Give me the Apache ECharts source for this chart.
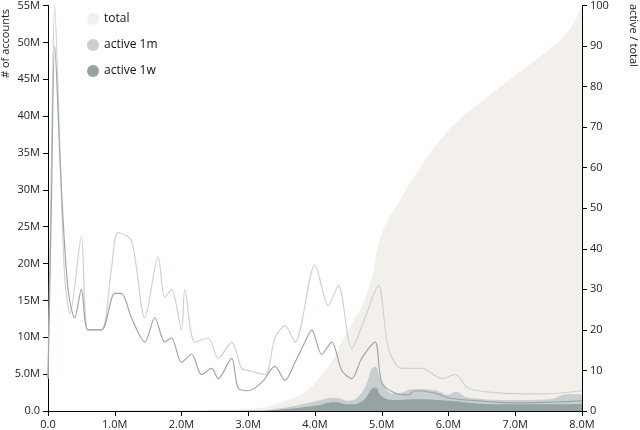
<!DOCTYPE html>
<html>
<head>
<meta charset="utf-8">
<script src="https://cdn.jsdelivr.net/npm/echarts@6/dist/echarts.min.js"></script>
<style>html,body{margin:0;padding:0;background:#fff}#c{width:640px;height:430px}</style>
</head>
<body>
<div id="c"></div>
<script>
// x in millions of accounts, values in millions (areas) or percent (lines)
var totalArea = [[0,0],[2.0,0],[2.5,0.1],[3.0,0.3],[3.5,1.2],[4.0,3.8],[4.5,11],[4.8,16.5],[5.0,24],[5.3,29],[5.5,32],[6.0,38],[6.5,42],[7.0,45.5],[7.5,49],[7.8,51.6],[8.0,55]];
var active1mArea = [[0,0],[3.0,0.05],[3.5,0.4],[4.0,1.3],[4.3,1.8],[4.5,1.4],[4.7,2.5],[4.9,6],[5.0,4],[5.2,2.3],[5.5,3],[5.8,2.8],[6.0,2.2],[6.1,2.6],[6.3,1.8],[7.0,1.5],[7.5,1.6],[7.8,2.3],[8.0,2.2]];
var active1wArea = [[0,0],[3.0,0.02],[3.5,0.2],[4.0,0.7],[4.3,1.2],[4.5,0.9],[4.7,1.3],[4.9,3.2],[5.0,2],[5.2,1.5],[5.5,1.6],[6.0,1.4],[6.5,1.0],[7.0,0.9],[7.5,0.9],[8.0,1.0]];
var ratio1m = [[0,8],[0.05,60],[0.1,100],[0.18,64],[0.25,33],[0.33,24],[0.5,43],[0.6,20],[0.8,20],[0.95,35],[1.05,44],[1.25,42],[1.45,23],[1.65,38],[1.75,28],[1.85,30],[2.0,20],[2.05,30],[2.2,17],[2.4,18],[2.55,13],[2.75,17],[2.9,10.5],[3.0,10],[3.25,9],[3.4,18],[3.55,21],[3.7,17],[4.0,36],[4.2,26],[4.35,31],[4.55,15.5],[4.75,23],[4.95,31],[5.1,15.5],[5.3,10.5],[5.6,10.5],[5.9,8],[6.1,9],[6.3,5.6],[6.8,4.4],[7.4,4.2],[8.0,5]];
var ratio1w = [[0,8],[0.05,50],[0.1,90],[0.2,55],[0.3,30],[0.4,23],[0.5,30],[0.6,20],[0.8,20],[1.0,29],[1.1,29],[1.25,23],[1.45,17],[1.6,23],[1.75,17],[1.85,18],[2.0,12],[2.15,14],[2.3,9],[2.45,10.5],[2.55,8],[2.75,13],[2.85,5.6],[3.0,5],[3.2,7],[3.4,11],[3.55,7.6],[3.7,12],[3.85,17],[3.95,20],[4.1,14],[4.25,17],[4.4,10],[4.55,8],[4.7,13],[4.9,17],[5.0,7],[5.2,4.4],[5.4,4],[5.5,5],[5.8,4.4],[6.0,3.2],[6.3,2.7],[7.0,2],[8.0,2.5]];

var font = 'Open Sans';
var myChart = echarts.init(document.getElementById('c'));
var option = {
    animation: false,
    textStyle: {fontFamily: font},
    grid: {left: 48, right: 58, top: 5, bottom: 17},
    legend: {
        orient: 'vertical', left: 82, top: 8, itemGap: 14, icon: 'circle',
        itemWidth: 12, itemHeight: 12,
        textStyle: {fontSize: 12, color: '#111'},
        data: ['total', 'active 1m', 'active 1w']
    },
    graphic: [
        {type: 'text', x: 6, y: 78, rotation: Math.PI / 2,
         style: {text: '# of accounts', font: '11px Open Sans', fill: '#222', align: 'left', verticalAlign: 'middle'}},
        {type: 'text', x: 633, y: 4, rotation: -Math.PI / 2,
         style: {text: 'active / total', font: '11px Open Sans', fill: '#222', align: 'left', verticalAlign: 'middle'}}
    ],
    xAxis: {
        type: 'value', min: 0, max: 8, interval: 1,
        axisLine: {lineStyle: {color: '#000'}},
        axisTick: {lineStyle: {color: '#000'}},
        splitLine: {show: false},
        axisLabel: {color: '#222', fontSize: 11, formatter: function (v) { return v === 0 ? '0.0' : v.toFixed(1) + 'M'; }}
    },
    yAxis: [
        {type: 'value', min: 0, max: 55, interval: 5, position: 'left',
         axisLine: {show: true, lineStyle: {color: '#000'}}, axisTick: {show: true}, splitLine: {show: false},
         axisLabel: {color: '#222', fontSize: 11, formatter: function (v) { return v === 0 ? '0.0' : (v < 10 ? v.toFixed(1) + 'M' : v + 'M'); }}},
        {type: 'value', min: 0, max: 100, interval: 10, position: 'right',
         axisLine: {show: true, lineStyle: {color: '#000'}}, axisTick: {show: true}, splitLine: {show: false},
         axisLabel: {color: '#222', fontSize: 11}}
    ],
    series: [
        {name: 'total', type: 'line', data: totalArea, smooth: true, symbol: 'none', color: '#f3f0eb',
         lineStyle: {width: 0}, areaStyle: {color: '#f3f0eb', opacity: 1}},
        {name: 'active 1m', type: 'line', data: active1mArea, smooth: true, symbol: 'none', color: '#c9cfd1',
         lineStyle: {width: 0}, areaStyle: {color: '#c9cfd1', opacity: 1}},
        {name: 'active 1w', type: 'line', data: active1wArea, smooth: true, symbol: 'none', color: '#97a2a4',
         lineStyle: {width: 0}, areaStyle: {color: '#97a2a4', opacity: 1}},
        {name: 'ratio 1m', type: 'line', yAxisIndex: 1, data: ratio1m, smooth: 0.3, symbol: 'none',
         lineStyle: {color: '#cdd2d2', width: 1.2}},
        {name: 'ratio 1w', type: 'line', yAxisIndex: 1, data: ratio1w, smooth: 0.3, symbol: 'none',
         lineStyle: {color: '#9ea6a6', width: 1.2}}
    ]
};
myChart.setOption(option);
</script>
</body>
</html>
